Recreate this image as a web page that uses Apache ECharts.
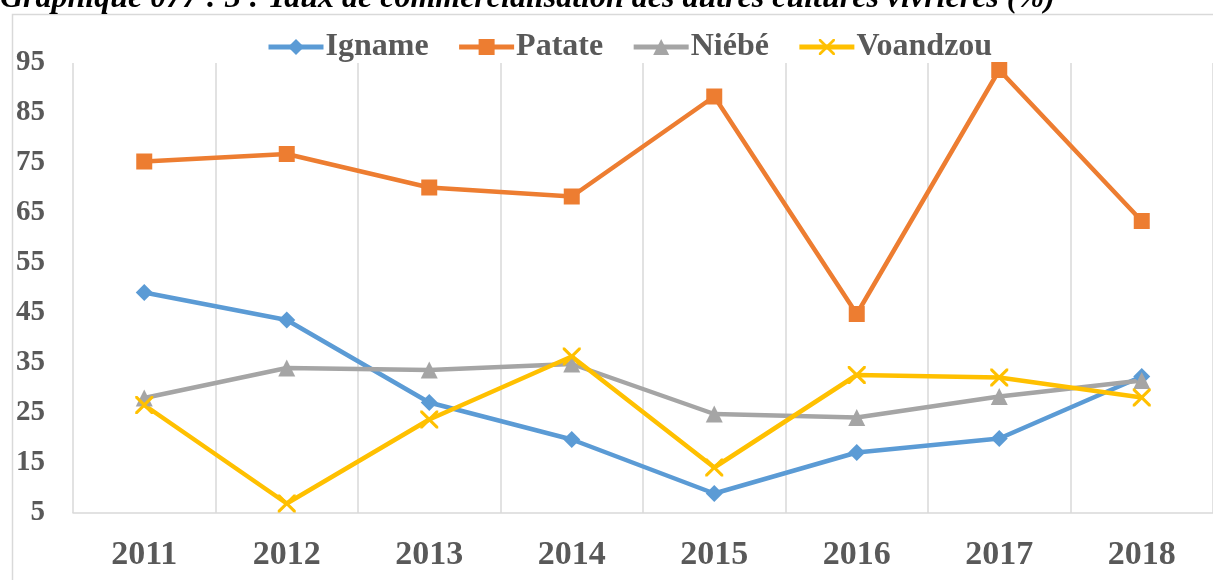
<!DOCTYPE html>
<html>
<head>
<meta charset="utf-8">
<script src="https://cdn.jsdelivr.net/npm/echarts@6/dist/echarts.min.js"></script>
<style>
    html, body { margin: 0; padding: 0; background: #fff; }
    #chart { width: 1213px; height: 580px; }
</style>
</head>
<body>
<div id="chart"></div>
<script>
    // annees
    const years = ['2011', '2012', '2013', '2014', '2015', '2016', '2017', '2018']
    // taux de commercialisation (%)
    const igname = [49.1, 43.6, 27.1, 19.7, 8.9, 17.1, 19.9, 32.3]
    const patate = [75.3, 76.8, 70.1, 68.3, 88.3, 44.8, 93.6, 63.4]
    const niebe = [28, 34, 33.6, 34.8, 24.8, 24.1, 28.3, 31.5]
    const voandzou = [26.6, 6.9, 23.7, 36.3, 14.1, 32.6, 32.1, 28.1]
    const yTicks = [5, 15, 25, 35, 45, 55, 65, 75, 85, 95]

    const font = '"Liberation Serif", "Times New Roman", serif'
    const txt = '#595959'
    // croix (marqueur Voandzou)
    const cross = 'path://M0,0 L1.2,0 L5,3.8 L8.8,0 L10,0 L10,1.2 L6.2,5 L10,8.8 L10,10 L8.8,10 L5,6.2 L1.2,10 L0,10 L0,8.8 L3.8,5 L0,1.2 Z'

    const chart = echarts.init(document.getElementById('chart'))

    function line(name, data, color, symbol, size) {
        return {
            name: name,
            type: 'line',
            data: data,
            symbol: symbol,
            symbolSize: size,
            showAllSymbol: true,
            lineStyle: { color: color, width: 4.5 },
            itemStyle: { color: color },
            z: 3
        }
    }

    let option = {
        backgroundColor: '#fff',
        animation: false,
        title: {
            text: 'Graphique 077 : 3 : Taux de commercialisation des autres cultures vivrières (%)',
            left: 0,
            top: -17,
            padding: 0,
            textStyle: {
                fontFamily: font,
                fontSize: 32,
                fontStyle: 'italic',
                fontWeight: 'bold',
                color: '#000'
            }
        },
        graphic: [{
            type: 'rect',
            left: 10,
            top: 12,
            shape: { width: 1260, height: 620 },
            style: { fill: 'none', stroke: '#d9d9d9', lineWidth: 1.5 },
            z: -10
        }],
        legend: {
            left: 261,
            top: 26,
            itemWidth: 55,
            itemHeight: 20,
            itemGap: 28,
            lineStyle: { width: 5 },
            textStyle: {
                fontFamily: font,
                fontSize: 32,
                fontWeight: 'bold',
                color: txt,
                padding: [0, 0, 0, -3]
            },
            data: ['Igname', 'Patate', 'Niébé', 'Voandzou']
        },
        grid: {
            left: 73,
            top: 63,
            width: 1148,
            height: 450,
            containLabel: false
        },
        xAxis: {
            type: 'category',
            data: years,
            boundaryGap: true,
            axisLine: { lineStyle: { color: '#d9d9d9', width: 1.5 } },
            axisTick: { show: false },
            splitLine: { show: true, lineStyle: { color: '#d9d9d9', width: 1.5 } },
            axisLabel: {
                margin: 25,
                fontFamily: font,
                fontSize: 34,
                fontWeight: 'bold',
                color: txt
            }
        },
        yAxis: {
            type: 'value',
            min: 5,
            max: 95,
            axisLine: { show: false },
            axisTick: { show: false },
            splitLine: { show: false },
            axisLabel: {
                customValues: yTicks,
                margin: 28,
                fontFamily: font,
                fontSize: 29,
                fontWeight: 'bold',
                color: txt
            }
        },
        series: [
            line('Igname', igname, '#5B9BD5', 'diamond', 17),
            line('Patate', patate, '#ED7D31', 'rect', 16),
            line('Niébé', niebe, '#A5A5A5', 'triangle', 17),
            line('Voandzou', voandzou, '#FFC000', cross, 18)
        ]
    }
    chart.setOption(option, true)
</script>
</body>
</html>
